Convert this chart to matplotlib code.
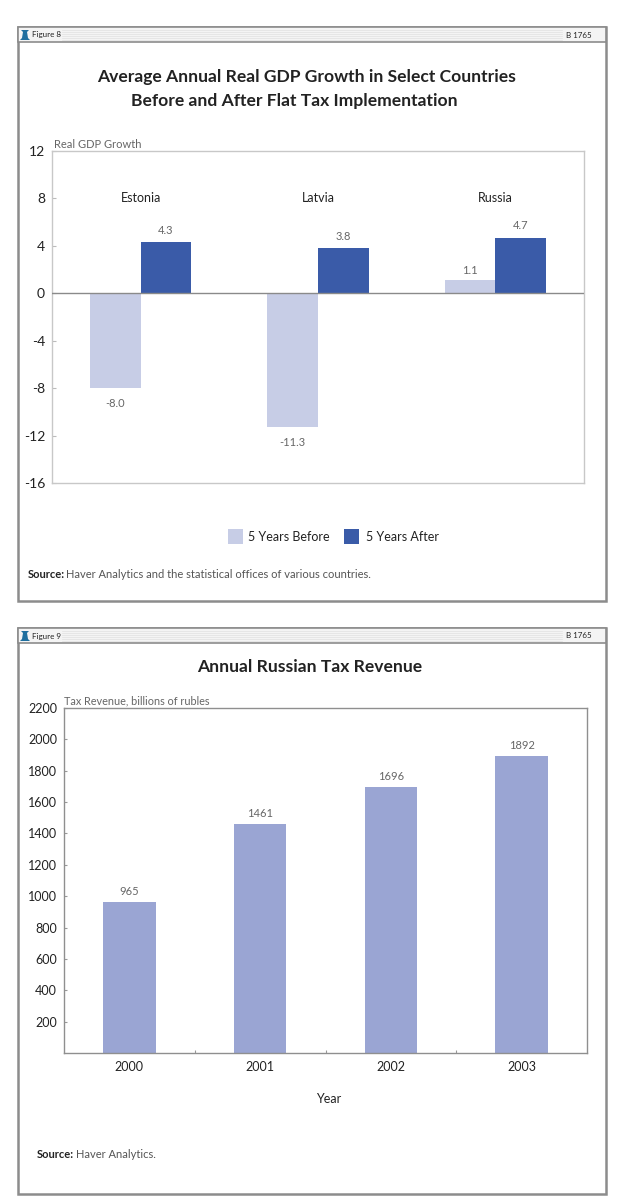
# Figures 8 and 9: flat tax GDP growth and Russian tax revenue
import matplotlib
matplotlib.use("Agg")
import matplotlib.pyplot as plt
from matplotlib.patches import Rectangle, Polygon

plt.rcParams['font.family'] = ['Lato', 'DejaVu Sans']

W, H = 641, 1200

countries = ["Estonia", "Latvia", "Russia"]
before = [-8.0, -11.3, 1.1]
after = [4.3, 3.8, 4.7]
growth_ticks = [12, 8, 4, 0, -4, -8, -12, -16]

years = ["2000", "2001", "2002", "2003"]
revenue = [965, 1461, 1696, 1892]
revenue_ticks = [200, 400, 600, 800, 1000, 1200, 1400, 1600, 1800, 2000, 2200]

light = "#c7cde6"
dark = "#3a5ba8"
mid = "#9aa5d3"
grey = "#8c8c8c"
txt = "#222222"

fig = plt.figure(figsize=(W / 100, H / 100), dpi=100, facecolor="white")

# overlay in pixel coordinates for frames and free text
bg = fig.add_axes([0, 0, 1, 1])
bg.set_xlim(0, W)
bg.set_ylim(H, 0)
bg.axis("off")


def frame(top, bottom, label):
    bg.add_patch(Rectangle((18, top), 588, bottom - top, fc="white", ec=grey, lw=1.8))
    bg.add_patch(Rectangle((18, top), 588, 15, fc="#f4f4f4", ec=grey, lw=1.2))
    for dy in (3, 5, 7, 9, 11, 13):
        bg.plot([62, 562], [top + dy, top + dy], color="#e0e0e0", lw=0.5)
    bg.text(32, top + 8, label, fontsize=5.8, color=txt, va="center")
    bg.text(579, top + 8, "B 1765", fontsize=5.8, color=txt, va="center", ha="center")
    # small bell mark
    bg.add_patch(Polygon([(21, top + 3), (29, top + 3), (27, top + 5), (28, top + 11),
                          (30, top + 13), (20, top + 13), (22, top + 11), (23, top + 5)],
                         fc="#1f6f9f", ec="none"))


frame(27, 601, "Figure 8")
frame(628, 1194, "Figure 9")

bg.text(307, 77, "Average Annual Real GDP Growth in Select Countries", fontsize=12.6,
        fontweight="bold", color=txt, ha="center", va="center")
bg.text(294, 101, "Before and After Flat Tax Implementation", fontsize=12.6,
        fontweight="bold", color=txt, ha="center", va="center")
bg.text(310, 666.5, "Annual Russian Tax Revenue", fontsize=12.6,
        fontweight="bold", color=txt, ha="center", va="center")

bg.text(54, 144, "Real GDP Growth", fontsize=8, color="#666666", va="center")
bg.text(64, 701, "Tax Revenue, billions of rubles", fontsize=7.8, color="#666666", va="center")

# legend, figure 8
bg.add_patch(Rectangle((228, 529), 15, 15, fc=light, ec="none"))
bg.text(248, 537, "5 Years Before", fontsize=9, color=txt, va="center")
bg.add_patch(Rectangle((344, 529), 15, 15, fc=dark, ec="none"))
bg.text(366, 537, "5 Years After", fontsize=9, color=txt, va="center")

bg.text(28, 574, "Source:", fontsize=8, fontweight="bold", color=txt, va="center")
bg.text(66, 574, "Haver Analytics and the statistical offices of various countries.",
        fontsize=8, color="#555555", va="center")
bg.text(37, 1154, "Source:", fontsize=8, fontweight="bold", color=txt, va="center")
bg.text(76, 1154, "Haver Analytics.", fontsize=8, color="#555555", va="center")
bg.text(329, 1099, "Year", fontsize=9, color=txt, ha="center", va="center")


def make_axes(left, right, top, bottom):
    ax = fig.add_axes([left / W, 1 - bottom / H, (right - left) / W, (bottom - top) / H])
    ax.patch.set_alpha(0)
    for s in ax.spines.values():
        s.set_color("#c8c8c8")
        s.set_linewidth(1.0)
    return ax


# Figure 8
ax1 = make_axes(52, 584, 151, 483)
w = 0.285
xs = range(len(countries))
ax1.bar([x - w / 2 for x in xs], before, w, color=light, zorder=2)
ax1.bar([x + w / 2 for x in xs], after, w, color=dark, zorder=2)
ax1.axhline(0, color="#8a8a8a", lw=1.0, zorder=3)
ax1.set_xlim(-0.5, 2.5)
ax1.set_ylim(-16, 12)
ax1.set_xticks([])
ax1.set_yticks(growth_ticks)
ax1.set_yticklabels([str(t) for t in growth_ticks])
ax1.tick_params(axis="y", length=3, direction="in", color="#bbbbbb", labelsize=10,
                labelcolor=txt, pad=5)
for i, name in enumerate(countries):
    ax1.text(i, 8, name, fontsize=9, color=txt, ha="center", va="center")
    ax1.text(i - w / 2, before[i] + (-1.3 if before[i] < 0 else 0.4), f"{before[i]:.1f}",
             fontsize=8, color="#666666", ha="center",
             va="center" if before[i] < 0 else "bottom")
    ax1.text(i + w / 2, after[i] + 0.55, f"{after[i]:.1f}", fontsize=8, color="#666666",
             ha="center", va="bottom")

# Figure 9
ax2 = make_axes(64, 587, 708, 1053)
for side in ax2.spines:
    ax2.spines[side].set_color("#8f8f8f")
ax2.bar(range(len(years)), revenue, 0.4, color=mid, zorder=2)
ax2.set_xlim(-0.5, 3.5)
ax2.set_ylim(0, 2200)
ax2.set_yticks(revenue_ticks)
ax2.set_xticks([0.5, 1.5, 2.5])
ax2.set_xticklabels([])
ax2.tick_params(axis="x", length=2, direction="in", color="#999999")
ax2.tick_params(axis="y", length=2, direction="in", color="#999999", labelsize=9,
                labelcolor=txt, pad=5)
for i, y in enumerate(years):
    ax2.text(i, -90, y, fontsize=9, color=txt, ha="center", va="center")
    ax2.text(i, revenue[i] + 32, str(revenue[i]), fontsize=8, color="#666666",
             ha="center", va="bottom")

fig.savefig("out.png", dpi=100)
